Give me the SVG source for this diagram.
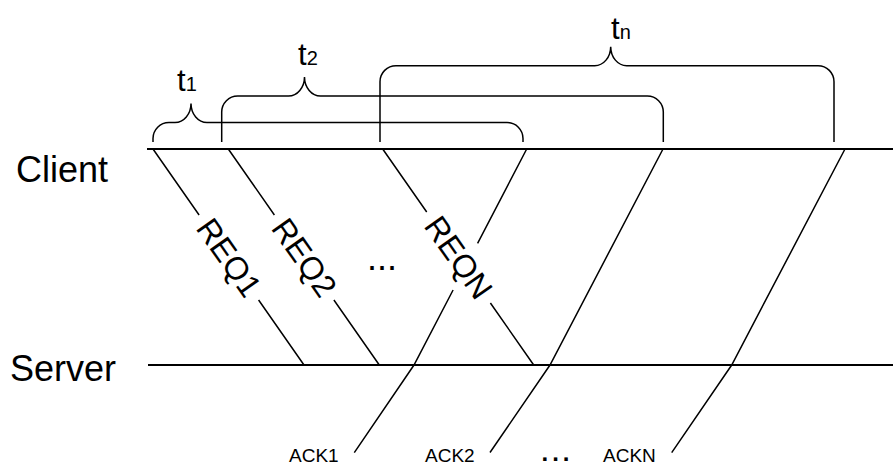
<svg xmlns="http://www.w3.org/2000/svg" width="893" height="466" viewBox="0 0 893 466">
<style>
text{font-family:"Liberation Sans",Arial,sans-serif;fill:#000}
.axis{stroke:#000;stroke-width:2;fill:none}
.msg{stroke:#000;stroke-width:1.5;fill:none}
.brace{stroke:#000;stroke-width:1.5;fill:none}
.big{font-size:36px}
.req{font-size:32px}
.ack{font-size:19px}
.t{font-size:31px}
.sub{font-size:20px}
</style>
<rect width="893" height="466" fill="#fff"/>
<g id="client">
<text class="big" x="16" y="182">Client</text>
<line class="axis" x1="147" y1="149" x2="893" y2="149"/>
</g>
<g id="server">
<text class="big" x="10" y="381">Server</text>
<line class="axis" x1="148" y1="365" x2="893" y2="365"/>
</g>
<g id="connectors">
<path class="msg" d="M153,149 L199.1,215 M258.6,300 L304,365"/>
<path class="msg" d="M228.3,149 L274.4,215 M333.9,300 L379.3,365"/>
<path class="msg" d="M382.7,149 L426.7,212 M490.4,303 L533.7,365"/>
<path class="msg" d="M526.7,149 L477.6,243.3 M453.1,290 L414,365 L354.3,452.7"/>
<path class="msg" d="M663,149 L550,365 L490,452.5"/>
<path class="msg" d="M845,149 L731.7,365 L671.7,452.7"/>
</g>
<g id="req-labels">
<text class="req" text-anchor="middle" dominant-baseline="central" transform="translate(228.9,257.5) rotate(55)">REQ1</text>
<text class="req" text-anchor="middle" dominant-baseline="central" transform="translate(304.2,257.5) rotate(55)">REQ2</text>
<text class="req" text-anchor="middle" dominant-baseline="central" transform="translate(458.6,257.5) rotate(55)">REQN</text>
<text class="big" x="367" y="270">...</text>
</g>
<g id="ack-labels">
<text class="ack" x="289" y="462">ACK1</text>
<text class="ack" x="425" y="462">ACK2</text>
<text x="541.5" y="460.5" font-size="24" font-weight="bold" letter-spacing="4">...</text>
<text class="ack" x="603" y="462">ACKN</text>
</g>
<g id="brace-t1">
<path class="brace" d="M153,142 V138.5 A16,16 0 0 1 169,122.5 H175 A16,19 0 0 0 191,103.5 A16,19 0 0 0 207,122.5 H507 A16,16 0 0 1 523,138.5 V142"/>
<text class="t" x="177" y="91">t<tspan class="sub">1</tspan></text>
</g>
<g id="brace-t2">
<path class="brace" d="M221.7,142 V112 A16,16 0 0 1 237.7,96 H288.5 A16,19 0 0 0 304.5,77 A16,19 0 0 0 320.5,96 H647.3 A16,16 0 0 1 663.3,112 V142"/>
<text class="t" x="298" y="64.5">t<tspan class="sub">2</tspan></text>
</g>
<g id="brace-tn">
<path class="brace" d="M380,142 V81.7 A16,16 0 0 1 396,65.7 H594.7 A16,19 0 0 0 610.7,46.7 A16,19 0 0 0 626.7,65.7 H818 A16,16 0 0 1 834,81.7 V142"/>
<text class="t" x="611" y="38.5">t<tspan class="sub" font-size="24">n</tspan></text>
</g>
</svg>
